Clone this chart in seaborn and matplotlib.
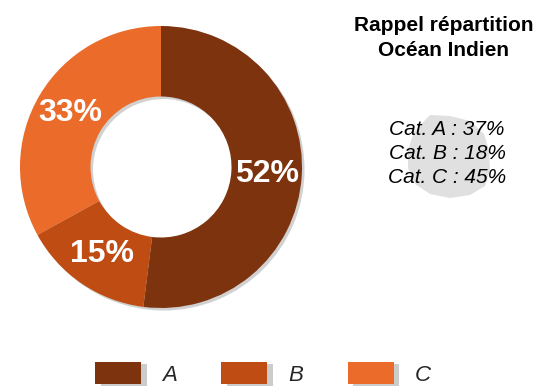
import matplotlib
matplotlib.use("Agg")
import matplotlib.pyplot as plt
import matplotlib.patheffects as pe
from matplotlib.patches import Patch, Polygon
import seaborn as sns
import numpy as np

# ---- data ----
categories = ["A", "B", "C"]
values = [52, 15, 33]
colors = ["#7D340E", "#BE4C13", "#EA6B2A"]
title_lines = ["Rappel répartition", "Océan Indien"]
recap_lines = ["Cat. A : 37%", "Cat. B : 18%", "Cat. C : 45%"]

sns.set_theme(style="white")
plt.rcParams["font.family"] = ["Liberation Sans", "DejaVu Sans"]
palette = sns.color_palette(colors)

W, H = 541, 387
fig = plt.figure(figsize=(W / 100, H / 100), dpi=100)
fig.patch.set_facecolor("white")

# background overlay axes in pixel coordinates (for the grey blob)
bg = fig.add_axes([0, 0, 1, 1], zorder=0)
bg.set_xlim(0, W)
bg.set_ylim(H, 0)
bg.axis("off")
blob_pts = [(430, 115), (450, 116), (470, 121), (484, 134), (489, 150), (490, 170),
            (485, 186), (470, 195), (450, 198), (430, 194), (415, 184), (408, 168),
            (408, 150), (414, 132)]
bg.add_patch(Polygon(blob_pts, closed=True, facecolor="#E0E0E0", edgecolor="none"))

# donut
cx, cy, R = 161, 167, 141
ax = fig.add_axes([(cx - R) / W, (H - cy - R) / H, 2 * R / W, 2 * R / H], zorder=1)
# soft shadow ring behind the donut
shadow, _ = ax.pie([sum(values)], colors=["#000000"], center=(0.018, -0.018),
                   wedgeprops=dict(width=0.5, edgecolor="none", linewidth=0, alpha=0.18))
for w in shadow:
    w.set_clip_on(False)
    w.set_zorder(0)
wedges, texts, autotexts = ax.pie(
    values, colors=palette, startangle=90, counterclock=False,
    wedgeprops=dict(width=0.5, edgecolor="none", linewidth=0),
    autopct="%.0f%%", pctdistance=0.75,
    textprops=dict(color="white", fontsize=23, fontweight="bold"))
for w in wedges:
    w.set_clip_on(False)
    w.set_zorder(1)
for t in autotexts:
    t.set_zorder(2)
ax.set_xlim(-1, 1)
ax.set_ylim(-1, 1)
ax.set_aspect("equal")
ax.axis("off")

# right-hand texts
fig.text(444 / W, 1 - 31 / H, title_lines[0], ha="center", va="baseline",
         fontsize=15, fontweight="bold", color="black", zorder=3)
fig.text(444 / W, 1 - 56 / H, title_lines[1], ha="center", va="baseline",
         fontsize=15, fontweight="bold", color="black", zorder=3)
for i, line in enumerate(recap_lines):
    fig.text(447 / W, 1 - (135 + 24 * i) / H, line, ha="center", va="baseline",
             fontsize=15, fontstyle="italic", color="black", zorder=3)

# legend
handles = [Patch(facecolor=c, edgecolor="none",
                 path_effects=[pe.SimplePatchShadow(offset=(4, -1), shadow_rgbFace="black", alpha=0.2),
                               pe.Normal()])
           for c in palette]
leg = fig.legend(handles, categories, loc="center", bbox_to_anchor=(263 / W, 1 - 374 / H),
                 ncol=3, frameon=False, fontsize=16, handlelength=2.07, handleheight=1.15,
                 handletextpad=0.95, columnspacing=2.0, borderpad=0.0)
for t in leg.get_texts():
    t.set_fontstyle("italic")

fig.savefig("out.png", dpi=100, facecolor="white")
